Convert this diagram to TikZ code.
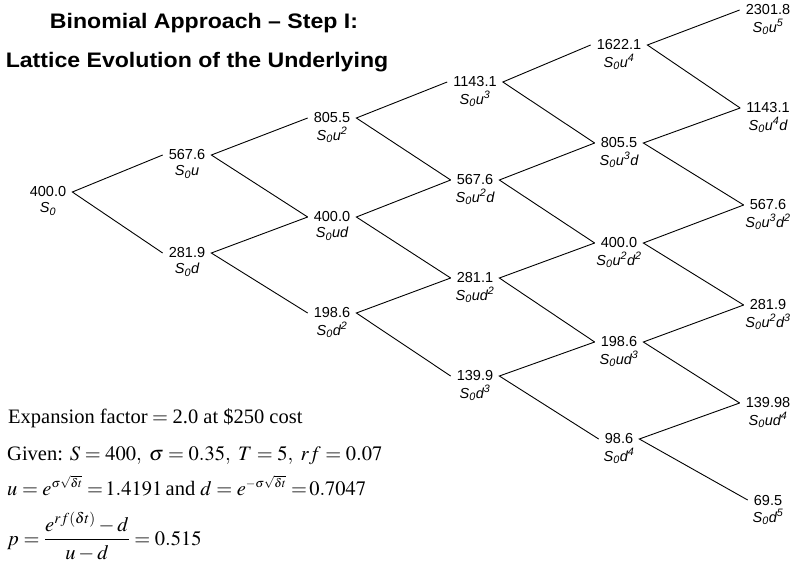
\documentclass[tikz,border=0pt]{standalone}
\usepackage{mathptmx}
\usepackage{fontspec}
\setmainfont{Liberation Serif}
\newfontfamily\arial{Liberation Sans}
\newcommand\latnode[5]{%
  \node[val] (#1) at (#2,#3) {#4};
  \node[lab] (#1l) at (#2,#3+17) {#5};}
\begin{document}
\begin{tikzpicture}[x=1pt,y=-1pt,
  val/.style={font=\arial\fontsize{14.5}{15}\selectfont, inner xsep=6pt, inner ysep=0pt},
  lab/.style={font=\arial\itshape\fontsize{14.5}{15}\selectfont, inner sep=0pt},
  edge/.style={draw=black, line width=0.9pt},
  ttl/.style={font=\arial\bfseries\fontsize{21}{23}\selectfont, anchor=base, inner sep=0pt, xscale=1.1, transform shape},
  txt/.style={font=\fontsize{20.5}{23}\selectfont, anchor=base west, inner sep=0pt}]
\useasboundingbox (0,0) rectangle (794,565);
\node[ttl] (title1) at (204,28) {Binomial Approach – Step I:};
\node[ttl] (title2) at (197,67) {Lattice Evolution of the Underlying};
% column 0
\latnode{a0}{48}{192}{400.0}{S\textsubscript{0}}
% column 1
\latnode{b0}{187}{155}{567.6}{S\textsubscript{0}u}
\latnode{b1}{187}{253}{281.9}{S\textsubscript{0}d}
% column 2
\latnode{c0}{332}{118}{805.5}{S\textsubscript{0}u\textsuperscript{2}}
\latnode{c1}{332}{217}{400.0}{S\textsubscript{0}ud}
\latnode{c2}{332}{313}{198.6}{S\textsubscript{0}d\textsuperscript{2}}
% column 3
\latnode{d0}{475}{82}{1143.1}{S\textsubscript{0}u\textsuperscript{3}}
\latnode{d1}{475}{180}{567.6}{S\textsubscript{0}u\textsuperscript{2}d}
\latnode{d2}{475}{278}{281.1}{S\textsubscript{0}ud\textsuperscript{2}}
\latnode{d3}{475}{376}{139.9}{S\textsubscript{0}d\textsuperscript{3}}
% column 4
\latnode{e0}{619}{45}{1622.1}{S\textsubscript{0}u\textsuperscript{4}}
\latnode{e1}{619}{143}{805.5}{S\textsubscript{0}u\textsuperscript{3}d}
\latnode{e2}{619}{243}{400.0}{S\textsubscript{0}u\textsuperscript{2}d\textsuperscript{2}}
\latnode{e3}{619}{342}{198.6}{S\textsubscript{0}ud\textsuperscript{3}}
\latnode{e4}{619}{439}{98.6}{S\textsubscript{0}d\textsuperscript{4}}
% column 5
\latnode{f0}{768}{10}{2301.8}{S\textsubscript{0}u\textsuperscript{5}}
\latnode{f1}{768}{108}{1143.1}{S\textsubscript{0}u\textsuperscript{4}d}
\latnode{f2}{768}{205}{567.6}{S\textsubscript{0}u\textsuperscript{3}d\textsuperscript{2}}
\latnode{f3}{768}{305}{281.9}{S\textsubscript{0}u\textsuperscript{2}d\textsuperscript{3}}
\latnode{f4}{768}{403}{139.98}{S\textsubscript{0}ud\textsuperscript{4}}
\latnode{f5}{768}{500}{69.5}{S\textsubscript{0}d\textsuperscript{5}}
% connectors
\draw[edge] (b0.west) -- (a0.east) -- (b1.west);
\draw[edge] (c0.west) -- (b0.east) -- (c1.west);
\draw[edge] (c1.west) -- (b1.east) -- (c2.west);
\draw[edge] (d0.west) -- (c0.east) -- (d1.west);
\draw[edge] (d1.west) -- (c1.east) -- (d2.west);
\draw[edge] (d2.west) -- (c2.east) -- (d3.west);
\draw[edge] (e0.west) -- (d0.east) -- (e1.west);
\draw[edge] (e1.west) -- (d1.east) -- (e2.west);
\draw[edge] (e2.west) -- (d2.east) -- (e3.west);
\draw[edge] (e3.west) -- (d3.east) -- (e4.west);
\draw[edge] (f0.west) -- (e0.east) -- (f1.west);
\draw[edge] (f1.west) -- (e1.east) -- (f2.west);
\draw[edge] (f2.west) -- (e2.east) -- (f3.west);
\draw[edge] (f3.west) -- (e3.east) -- (f4.west);
\draw[edge] (f4.west) -- (e4.east) -- (f5.west);
% formulas
\node[txt] (t1) at (8,423) {Expansion factor${}={}$2.0 at \$250 cost};
\node[txt] (t2) at (7,460) {Given: $S = 400,\ \sigma = 0.35,\ T = 5,\ rf = 0.07$};
\node[txt] (t3) at (7,495) {$u = e^{\scriptscriptstyle\sigma\sqrt{\delta t}}\;{=}\,1.4191$\,and $d = e^{\scriptscriptstyle-\sigma\sqrt{\delta t}}\;{=}\,0.7047$};
\node[txt] (t4) at (7,545) {$p = \displaystyle\frac{e^{rf(\delta t)} - d}{u - d} = 0.515$};
\end{tikzpicture}
\end{document}
